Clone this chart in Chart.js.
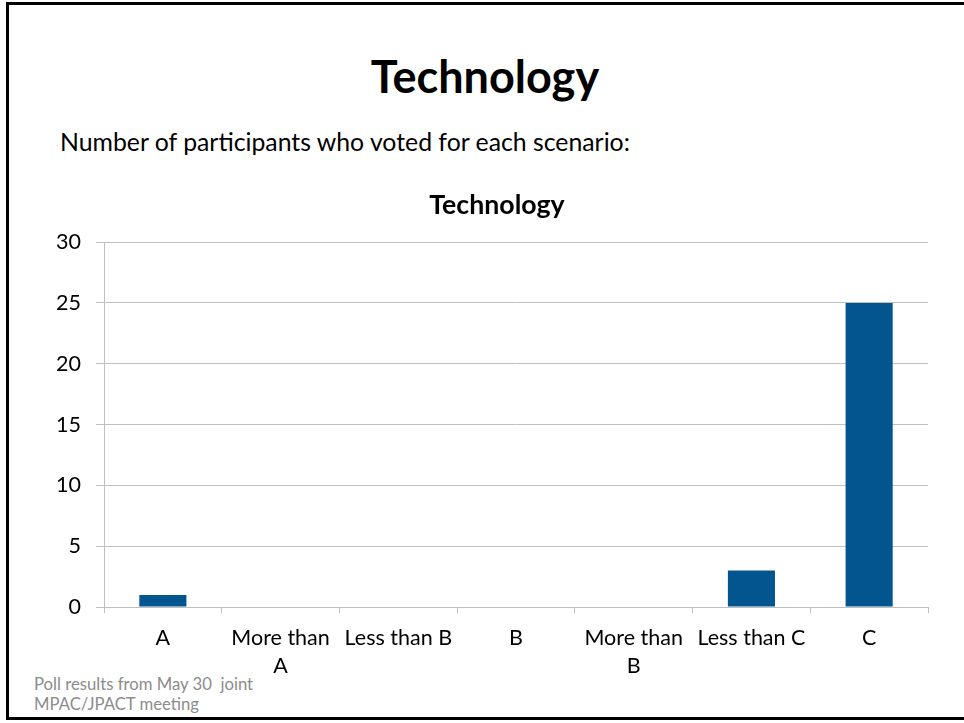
<!DOCTYPE html>
<html>
<head>
<meta charset="utf-8">
<script src="https://cdn.jsdelivr.net/npm/chart.js@4"></script>
<style>
  html, body { margin: 0; padding: 0; background: #fff; }
  body { width: 964px; height: 723px; position: relative; overflow: hidden; font-family: Lato, sans-serif; }
  #frame { position: absolute; left: 6px; top: 2px; width: 1000px; height: 718px; border: 3px solid #000; border-right: none; box-sizing: border-box; }
  #title { position: absolute; left: 3px; width: 964px; top: 49px; text-align: center; font-weight: bold; font-size: 45px; line-height: 1.2; color: #000; }
  #subtitle { position: absolute; left: 60px; top: 127px; font-size: 24.8px; line-height: 1.2; color: #000; }
  #footer { position: absolute; left: 34px; top: 675px; font-size: 16.7px; line-height: 19.5px; color: #8c8c8c; }
  #wrap { position: absolute; left: 30px; top: 180px; width: 934px; height: 511px; }
</style>
</head>
<body>
<div id="frame"></div>
<div id="title">Technology</div>
<div id="subtitle">Number of participants who voted for each scenario:</div>
<div id="footer">Poll results from May 30&nbsp; joint<br>MPAC/JPACT meeting</div>
<div id="wrap"><canvas id="chart"></canvas></div>

<script>
var categories = ['A', ['More than', 'A'], 'Less than B', 'B', ['More than', 'B'], 'Less than C', 'C'];
var votes = [1, 0, 0, 0, 0, 3, 25];
var yTicks = [0, 5, 10, 15, 20, 25, 30];

var gridColor = '#bfbfbf';

function createChart()
{
    const ctx = document.getElementById('chart');

    new Chart(ctx,
    {
        type: 'bar',
        data: {
            labels: categories,
            datasets: [{
                label: 'Technology',
                data: votes,
                backgroundColor: '#02558f',
                borderWidth: 0,
                categoryPercentage: 1,
                barPercentage: 0.4
            }]
        },
        options: {
            responsive: true,
            maintainAspectRatio: false,
            animation: false,
            layout: {
                padding: 0
            },
            scales: {
                x: {
                    offset: true,
                    grid: {
                        offset: true,
                        drawOnChartArea: false,
                        drawTicks: true,
                        tickLength: 6,
                        color: gridColor
                    },
                    border: { color: gridColor, width: 1 },
                    ticks: {
                        color: '#000',
                        autoSkip: false,
                        maxRotation: 0,
                        padding: 11,
                        font: { family: 'Lato', size: 21.5, lineHeight: 1.3 }
                    }
                },
                y: {
                    min: 0,
                    max: 30,
                    afterBuildTicks: function(axis) {
                        axis.ticks = yTicks.map(function(v) { return { value: v }; });
                    },
                    afterFit: function(axis) {
                        axis.width = 74;
                    },
                    grid: {
                        color: gridColor,
                        tickLength: 8
                    },
                    border: { color: gridColor, width: 1 },
                    ticks: {
                        color: '#000',
                        padding: 15,
                        font: { family: 'Lato', size: 21.5 }
                    }
                },
                // empty axis on the right, only keeps the plot off the right edge
                yRight: {
                    position: 'right',
                    grid: { display: false },
                    border: { display: false },
                    ticks: { display: false },
                    afterFit: function(axis) {
                        axis.width = 36;
                    }
                }
            },
            plugins: {
                legend: { display: false },
                tooltip: { enabled: false },
                title: {
                    display: true,
                    text: 'Technology',
                    color: '#000',
                    font: { family: 'Lato', size: 26.7, weight: 'bold', lineHeight: 1.2 },
                    padding: { top: 9, bottom: 21 }
                }
            }
        }
    });
}

createChart();
</script>
</body>
</html>
